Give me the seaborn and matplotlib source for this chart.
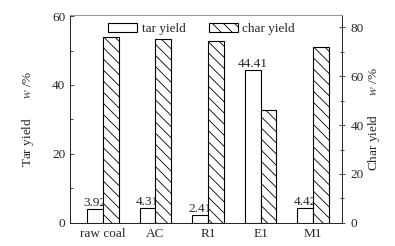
import matplotlib
matplotlib.use("Agg")
import matplotlib.pyplot as plt
import seaborn as sns
import pandas as pd
from matplotlib.ticker import MultipleLocator

samples = ['raw coal', 'AC', 'R1', 'E1', 'M1']
tar_yield = [3.92, 4.31, 2.41, 44.41, 4.42]
char_yield = [76.0, 75.2, 74.4, 46.2, 71.9]
series = ['tar yield', 'char yield']

df = pd.DataFrame({
    'sample': samples * 2,
    'value': tar_yield + char_yield,
    'series': [series[0]] * 5 + [series[1]] * 5,
})

sns.set_style("ticks")
plt.rcParams['font.family'] = ['Liberation Serif', 'DejaVu Serif']
plt.rcParams['mathtext.fontset'] = 'stix'
plt.rcParams['hatch.linewidth'] = 0.6

fig, ax = plt.subplots(figsize=(3.95, 2.46), dpi=100)
ax2 = ax.twinx()

# both series drawn on both axes (for dodging); each axis keeps only its own series
pal = {'tar yield': 'white', 'char yield': 'white'}
for a in (ax, ax2):
    sns.barplot(data=df, x='sample', y='value', hue='series', hue_order=series,
                order=samples, width=0.6, ax=a, palette=pal,
                edgecolor='black', linewidth=0.8, saturation=1)

for p in ax.containers[1]:
    p.set_visible(False)
for p in ax2.containers[0]:
    p.set_visible(False)
for p in ax2.containers[1]:
    p.set_hatch('\\\\\\')

ax.bar_label(ax.containers[0], fmt='%.2f', fontsize=9.5, padding=0)

ax.set_xlim(-0.62, 4.55)
ax.set_ylim(0, 60.3)
ax2.set_ylim(0, 85)
ax.yaxis.set_major_locator(MultipleLocator(20))
ax.yaxis.set_minor_locator(MultipleLocator(10))
ax2.yaxis.set_major_locator(MultipleLocator(20))
ax2.yaxis.set_minor_locator(MultipleLocator(10))

ax.tick_params(axis='y', which='both', direction='in', labelsize=9.5, width=0.6)
ax.tick_params(axis='y', which='major', length=3)
ax.tick_params(axis='y', which='minor', length=2)
ax.tick_params(axis='x', length=0, labelsize=9.5, pad=4)
ax2.tick_params(axis='y', which='both', direction='inout', labelsize=9.5, width=0.6)
ax2.tick_params(axis='y', which='major', length=5)
ax2.tick_params(axis='y', which='minor', length=3)

ax.set_xlabel('')
ax.set_ylabel('Tar yield      $w$ /%', fontsize=9.5, labelpad=12)
ax2.set_ylabel('Char yield      $w$ /%', fontsize=9.5, labelpad=2)

for a in (ax, ax2):
    for s in a.spines.values():
        s.set_linewidth(0.7)
    a.spines['top'].set_color('#999999')

leg_kw = dict(loc='upper left', frameon=False, fontsize=9.5, handlelength=2.2,
              handleheight=0.7, handletextpad=0.35, borderaxespad=0.2)
h1, l1 = ax.get_legend_handles_labels()
ax.legend([h1[0]], [l1[0]], bbox_to_anchor=(0.11, 1.0), **leg_kw)
ax2.legend([ax2.containers[1]], [series[1]], bbox_to_anchor=(0.48, 1.0), **leg_kw)

fig.subplots_adjust(left=0.178, right=0.866, top=0.939, bottom=0.094)
fig.savefig('out.png', dpi=100)
